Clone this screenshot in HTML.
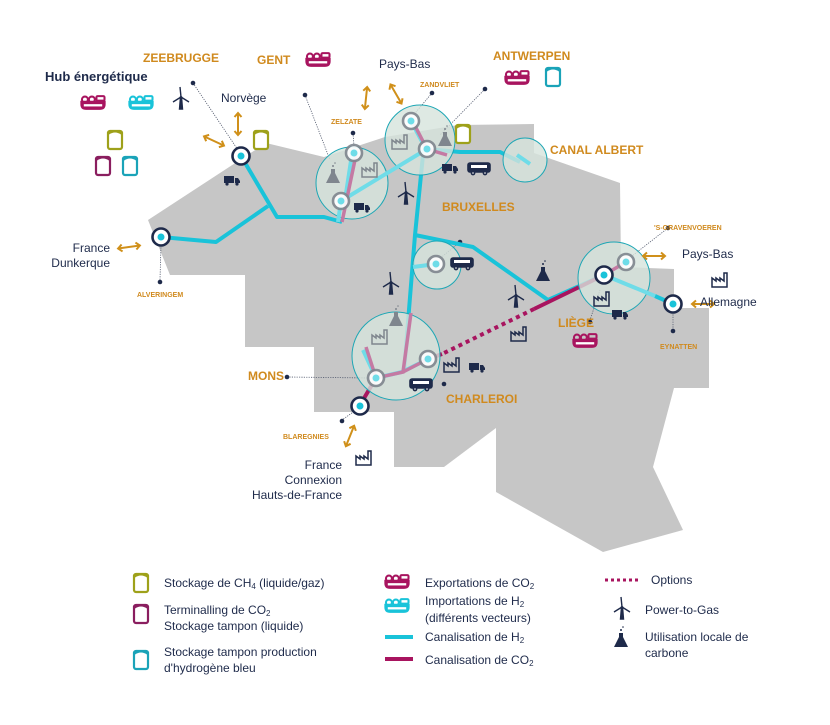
<!DOCTYPE html>
<html><head><meta charset="utf-8"><style>
body{margin:0;background:#fff;}
svg text{font-family:"Liberation Sans",sans-serif;}
</style></head><body>
<svg width="830" height="720" viewBox="0 0 830 720" xmlns="http://www.w3.org/2000/svg">
<defs>
 <g id="ship"><g transform="scale(1.15)"><path d="M-11,-2 h22 v3 q0,5 -5,5 h-12 q-5,0 -5,-5z" fill="currentColor"/><circle cx="-7" cy="-3" r="2.6" fill="none" stroke="currentColor" stroke-width="1.8"/><circle cx="-1" cy="-3" r="2.6" fill="none" stroke="currentColor" stroke-width="1.8"/><rect x="3" y="-6" width="7" height="4" rx="1" fill="none" stroke="currentColor" stroke-width="1.8"/><rect x="-8" y="1" width="16" height="2" fill="#fff"/></g></g>
 <g id="tank"><rect x="-7" y="-9" width="14" height="18" rx="2" fill="#fff" stroke="currentColor" stroke-width="2.2"/><path d="M-7,-6 q7,-5 14,0" fill="none" stroke="currentColor" stroke-width="2"/></g>
 <g id="truck" fill="#1e2a4a"><rect x="-8" y="-4" width="10" height="7"/><path d="M3,-2 h3 l2,3 v2 h-5z"/><circle cx="-5" cy="4" r="1.6"/><circle cx="5" cy="4" r="1.6"/></g>
 <g id="bus" fill="none" stroke="#1e2a4a" stroke-width="1.6"><rect x="-11" y="-5" width="22" height="9" rx="2" fill="#1e2a4a"/><rect x="-8" y="-3" width="16" height="3" fill="#fff" stroke="none"/><circle cx="-6" cy="5" r="1.6" fill="#fff"/><circle cx="6" cy="5" r="1.6" fill="#fff"/></g>
 <g id="fac" fill="none" stroke="#1e2a4a" stroke-width="1.5"><path d="M-8,7 v-9 l4,3 v-3 l4,3 v-3 l4,3 v-8 h3 v14z"/></g>
 <g id="facg" fill="none" stroke="#7f868e" stroke-width="1.5"><path d="M-8,7 v-9 l4,3 v-3 l4,3 v-3 l4,3 v-8 h3 v14z"/></g>
 <g id="wind" fill="none" stroke="#1e2a4a" stroke-width="1.4"><path d="M-1.5,10 l1,-12 h1 l1,12z" fill="#1e2a4a"/><path d="M0,-2 l-1,-10 M0,-2 l-8,5 M0,-2 l8,5"/></g>
 <g id="flask"><path d="M-2,-4 v-4 h4 v4 l5,10 h-14z" fill="#1e2a4a"/><circle cx="0" cy="-11" r="1" fill="#1e2a4a"/><circle cx="2" cy="-14" r="0.8" fill="#1e2a4a"/></g>
 <g id="flaskg"><path d="M-2,-4 v-4 h4 v4 l5,10 h-14z" fill="#7f868e"/><circle cx="0" cy="-11" r="1" fill="#7f868e"/><circle cx="2" cy="-14" r="0.8" fill="#7f868e"/></g>
 <g id="arr" stroke="#d0901a" stroke-width="2" fill="none"><path d="M-11,0 h22 M-7,-3.5 l-4,3.5 4,3.5 M7,-3.5 l4,3.5 -4,3.5"/></g>
 <g id="node"><circle r="8.5" fill="#fff" stroke="#1e2a4a" stroke-width="2.6"/><circle r="3.5" fill="#19c3d9"/></g>
 <g id="nodeg"><circle r="8" fill="#fff" stroke="#7f868e" stroke-width="2.6" opacity="0.9"/><circle r="3.5" fill="#6fdce8"/></g>
</defs>

<path d="M148,220 L266,143 L324,157 L385,137 L458,125 L534,124 L534,153 L620,183 L621,267 L674,269 L674,308 L709,308 L709,388 L674,388 L653,467 L683,530 L603,552 L496,492 L496,428 L444,467 L394,467 L394,412 L314,412 L314,347 L245,347 L245,275 L170,275 Z" fill="#c6c6c6"/>

<g stroke="#555d70" stroke-width="0.8" stroke-dasharray="1.2,1.2" fill="none">
<path d="M193,83 L238,150"/><path d="M305,95 L330,160"/><path d="M353,133 L354,146"/><path d="M432,93 L411,118"/><path d="M485,89 L440,135"/><path d="M161,245 L160,280"/><path d="M460,242 L438,260"/><path d="M668,228 L632,256"/><path d="M673,312 L673,330"/><path d="M287,377 L370,378"/><path d="M600,290 L590,320"/><path d="M356,410 L342,420"/>
</g>
<g fill="#1e2a4a"><circle cx="193" cy="83" r="2.3"/><circle cx="305" cy="95" r="2.3"/><circle cx="353" cy="133" r="2.3"/><circle cx="432" cy="93" r="2.3"/><circle cx="485" cy="89" r="2.3"/><circle cx="160" cy="282" r="2.3"/><circle cx="460" cy="242" r="2.3"/><circle cx="668" cy="228" r="2.3"/><circle cx="673" cy="331" r="2.3"/><circle cx="287" cy="377" r="2.3"/><circle cx="590" cy="322" r="2.3"/><circle cx="342" cy="421" r="2.3"/><circle cx="444" cy="384" r="2.3"/></g>

<g stroke="#19c3d9" stroke-width="4" fill="none" stroke-linejoin="round">
<path d="M241,156 L277,217 L324,217 L342,222"/>
<path d="M268,206 L216,242 L161,237"/>
<path d="M426,149 L460,152 L500,152 L520,162"/>
<path d="M423,155 L415,235 L404,372"/>
<path d="M415,235 L473,247 L548,300 L604,275"/>
<path d="M655,296 L673,304"/>
</g>
<path d="M604,275 L534,309" stroke="#a8145f" stroke-width="4"/>
<path d="M534,309 L442,354" stroke="#a8145f" stroke-width="4" stroke-dasharray="4,4"/>
<path d="M442,354 L428,359 M376,378 L360,405" stroke="#a8145f" stroke-width="4"/>

<g fill="#d6e4dc" fill-opacity="0.8" stroke="#1ea7b5" stroke-width="1">
<circle cx="352" cy="183" r="36"/>
<circle cx="420" cy="140" r="35"/>
<circle cx="525" cy="160" r="22"/>
<circle cx="437" cy="265" r="24"/>
<circle cx="614" cy="278" r="36"/>
<circle cx="396" cy="356" r="44"/>
</g>
<g stroke="#6fdce8" stroke-width="4" fill="none">
<path d="M341,201 L427,149"/><path d="M341,201 L338,222"/><path d="M352,154 L345,200"/>
<path d="M411,121 L426,149"/>
<path d="M517,155 L530,164"/>
<path d="M413,267 L436,264"/>
<path d="M604,275 L655,296"/>
<path d="M376,378 L402,372 L428,359 M363,350 L376,378"/>
</g>
<g stroke="#c47aa3" stroke-width="3.5" fill="none">
<path d="M356,155 L342,222"/><path d="M414,124 L427,149 L447,155"/>
<path d="M604,275 L626,262"/>
<path d="M411,313 L403,372 L376,378 M403,372 L428,359 M366,347 L376,378"/>
</g>
<use href="#nodeg" x="354" y="153"/><use href="#nodeg" x="341" y="201"/>
<use href="#nodeg" x="411" y="121"/><use href="#nodeg" x="427" y="149"/>
<use href="#nodeg" x="436" y="264"/><use href="#nodeg" x="626" y="262"/>
<use href="#nodeg" x="428" y="359"/><use href="#nodeg" x="376" y="378"/>
<use href="#node" x="241" y="156"/><use href="#node" x="161" y="237"/>
<use href="#node" x="604" y="275"/><use href="#node" x="673" y="304"/>
<use href="#node" x="360" y="406"/>

<use href="#ship" x="93" y="103" style="color:#a8145f"/>
<use href="#ship" x="141" y="103" style="color:#19c3d9"/>
<use href="#wind" x="181" y="99"/>
<use href="#tank" x="115" y="140" style="color:#9ea11a"/>
<use href="#tank" x="103" y="166" style="color:#8a1e5f"/>
<use href="#tank" x="130" y="166" style="color:#1aa3b8"/>
<use href="#tank" x="261" y="140" style="color:#9ea11a"/>
<use href="#tank" x="463" y="134" style="color:#9ea11a"/>
<use href="#tank" x="553" y="77" style="color:#1aa3b8"/>
<use href="#ship" x="318" y="60" style="color:#a8145f"/>
<use href="#ship" x="517" y="78" style="color:#a8145f"/>
<use href="#ship" x="585" y="341" style="color:#a8145f"/>
<use href="#truck" x="232" y="180"/>
<use href="#truck" x="362" y="207"/>
<use href="#truck" x="450" y="168"/>
<use href="#bus" x="479" y="168"/>
<use href="#bus" x="462" y="263"/>
<use href="#truck" x="620" y="314"/>
<use href="#truck" x="477" y="367"/>
<use href="#bus" x="421" y="384"/>
<use href="#facg" x="370" y="170"/><use href="#facg" x="400" y="142"/>
<use href="#facg" x="380" y="337"/>
<use href="#fac" x="602" y="299"/><use href="#fac" x="519" y="334"/><use href="#fac" x="452" y="365"/>
<use href="#fac" x="720" y="280"/><use href="#fac" x="364" y="458"/>
<use href="#flaskg" x="333" y="177"/><use href="#flaskg" x="445" y="140"/><use href="#flaskg" x="396" y="320"/>
<use href="#flask" x="543" y="275"/>
<use href="#wind" x="406" y="194"/><use href="#wind" x="391" y="284"/><use href="#wind" x="516" y="297"/>

<use href="#arr" transform="translate(214,141) rotate(25)"/>
<use href="#arr" transform="translate(238,124) rotate(90)"/>
<use href="#arr" transform="translate(366,98) rotate(96)"/>
<use href="#arr" transform="translate(396,94) rotate(60)"/>
<use href="#arr" transform="translate(129,247) rotate(-8)"/>
<use href="#arr" transform="translate(654,256)"/>
<use href="#arr" transform="translate(703,304)"/>
<use href="#arr" transform="translate(350,436) rotate(-68)"/>

<g font-weight="bold" fill="#d08a1e">
<text x="45" y="81" font-size="13" fill="#1e2a4a">Hub énergétique</text>
<text x="143" y="62" font-size="12">ZEEBRUGGE</text>
<text x="257" y="64" font-size="12">GENT</text>
<text x="493" y="60" font-size="12">ANTWERPEN</text>
<text x="420" y="87" font-size="7">ZANDVLIET</text>
<text x="331" y="124" font-size="7">ZELZATE</text>
<text x="550" y="154" font-size="12">CANAL ALBERT</text>
<text x="442" y="211" font-size="12">BRUXELLES</text>
<text x="654" y="230" font-size="7">'S-GRAVENVOEREN</text>
<text x="660" y="349" font-size="7">EYNATTEN</text>
<text x="558" y="327" font-size="12">LIÈGE</text>
<text x="248" y="380" font-size="12">MONS</text>
<text x="446" y="403" font-size="12">CHARLEROI</text>
<text x="283" y="439" font-size="7">BLAREGNIES</text>
<text x="137" y="297" font-size="7">ALVERINGEM</text>
</g>
<g font-size="12" fill="#1e2a4a">
<text x="379" y="68">Pays-Bas</text>
<text x="221" y="102">Norvège</text>
<text x="682" y="258">Pays-Bas</text>
<text x="700" y="306">Allemagne</text>
<g text-anchor="end"><text x="110" y="252">France</text><text x="110" y="267">Dunkerque</text>
<text x="342" y="469">France</text><text x="342" y="484">Connexion</text><text x="342" y="499">Hauts-de-France</text></g>
</g>

<use href="#tank" x="141" y="583" style="color:#9ea11a"/>
<use href="#tank" x="141" y="614" style="color:#8a1e5f"/>
<use href="#tank" x="141" y="660" style="color:#1aa3b8"/>
<use href="#ship" x="397" y="582" style="color:#a8145f"/>
<use href="#ship" x="397" y="606" style="color:#19c3d9"/>
<path d="M385,637 h28" stroke="#19c3d9" stroke-width="4"/>
<path d="M385,659 h28" stroke="#a8145f" stroke-width="4"/>
<path d="M605,580 h34" stroke="#a8145f" stroke-width="3" stroke-dasharray="3,3"/>
<use href="#wind" x="622" y="609"/>
<use href="#flask" x="621" y="641"/>
<g font-size="12" fill="#1e2a4a">
<text x="164" y="587">Stockage de CH<tspan font-size="8" dy="2">4</tspan><tspan dy="-2"> (liquide/gaz)</tspan></text>
<text x="164" y="614">Terminalling de CO<tspan font-size="8" dy="2">2</tspan></text>
<text x="164" y="630">Stockage tampon (liquide)</text>
<text x="164" y="656">Stockage tampon production</text>
<text x="164" y="672">d'hydrogène bleu</text>
<text x="425" y="587">Exportations de CO<tspan font-size="8" dy="2">2</tspan></text>
<text x="425" y="605">Importations de H<tspan font-size="8" dy="2">2</tspan></text>
<text x="425" y="622">(différents vecteurs)</text>
<text x="425" y="641">Canalisation de H<tspan font-size="8" dy="2">2</tspan></text>
<text x="425" y="664">Canalisation de CO<tspan font-size="8" dy="2">2</tspan></text>
<text x="651" y="584">Options</text>
<text x="645" y="614">Power-to-Gas</text>
<text x="645" y="641">Utilisation locale de</text>
<text x="645" y="657">carbone</text>
</g>
</svg>
</body></html>
